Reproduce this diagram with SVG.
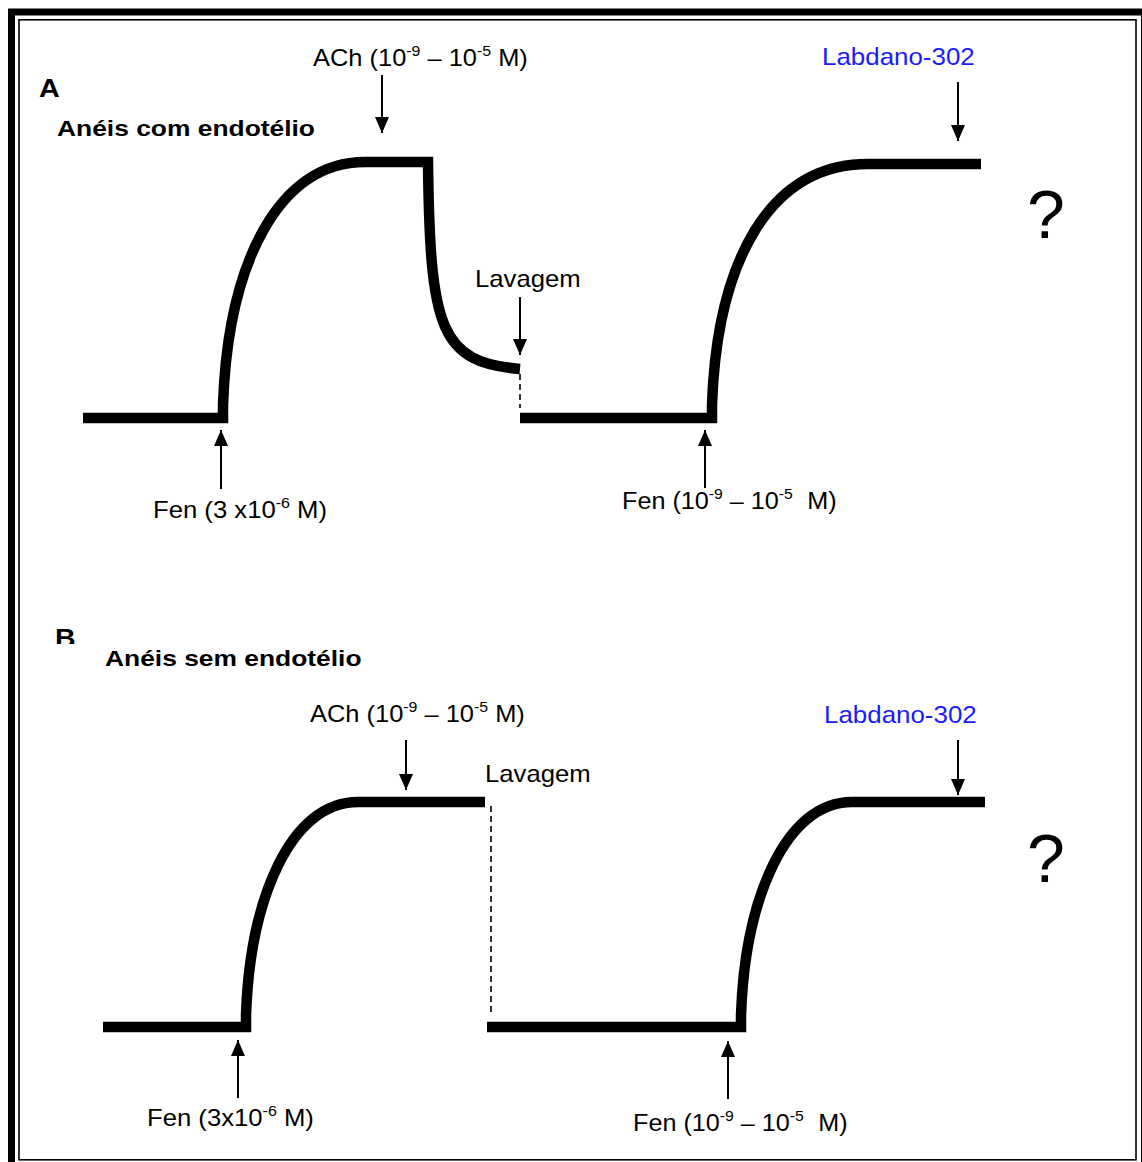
<svg xmlns="http://www.w3.org/2000/svg" width="1142" height="1162" viewBox="0 0 1142 1162">
<style>
.t{font-family:"Liberation Sans",Arial,sans-serif;font-size:24px;fill:#000}
.b{font-family:"Liberation Sans",Arial,sans-serif;font-size:22px;font-weight:bold;fill:#000}
.blue{fill:#1a1aff}
.q{font-family:"Liberation Sans",Arial,sans-serif;font-size:68px;fill:#000}
.sup{font-size:15px}
.trace{fill:none;stroke:#000;stroke-width:10.5;stroke-linejoin:miter;stroke-linecap:butt}
.arr{stroke:#000;stroke-width:2;fill:none;marker-end:url(#ah)}
.dash{stroke:#000;stroke-width:1.6;stroke-dasharray:6 4;fill:none}
</style>
<defs>
<marker id="ah" markerUnits="userSpaceOnUse" markerWidth="16" markerHeight="18" refX="16" refY="7" orient="auto">
<path d="M0,0 L16,7 L0,14 Z" fill="#000"/>
</marker>
<clipPath id="clipB"><rect x="40" y="600" width="60" height="44"/></clipPath>
</defs>
<rect width="1142" height="1162" fill="#fff"/>
<g id="frame">
<rect x="11.5" y="12" width="1133" height="1160" fill="none" stroke="#000" stroke-width="7"/>
<rect x="19" y="19.8" width="1117" height="1140" fill="none" stroke="#000" stroke-width="1.6"/>
</g>

<g id="connectors">
<path class="trace" d="M83 418 L223 418 L223 405 C228 260 280 162 365 162 L428 162 C430 330 440 362 520 369"/>
<path class="dash" d="M520 374 L520 408"/>
<path class="trace" d="M520 418 L712 418 L712 405 C717 260 770 164 868 164 L981 164"/>
<path class="arr" d="M382 75 L382 133"/>
<path class="arr" d="M520 297 L520 355"/>
<path class="arr" d="M958 82 L958 141"/>
<path class="arr" d="M221 489 L221 430"/>
<path class="arr" d="M705 488 L705 430"/>
<path class="trace" d="M103 1027 L246 1027 L246 1015 C250 900 290 802 358 802 L485 802"/>
<path class="dash" d="M491 806 L491 1015"/>
<path class="trace" d="M487 1027 L741 1027 L741 1015 C745 900 785 802 852 802 L985 802"/>
<path class="arr" d="M406 740 L406 790"/>
<path class="arr" d="M958 740 L958 795"/>
<path class="arr" d="M238 1098 L238 1040"/>
<path class="arr" d="M728 1099 L728 1041"/>
</g>

<g id="panelA">
<text class="b" style="font-size:25px" transform="matrix(1.15 0 0 1 39 97)">A</text>
<text class="b" transform="matrix(1.2 0 0 1 57 136)">Anéis com endotélio</text>
<g id="achA"><text class="t" transform="matrix(1.06 0 0 1 313 66)">ACh (10<tspan class="sup" dy="-10">-9</tspan><tspan dy="10"> – 10</tspan><tspan class="sup" dy="-10">-5</tspan><tspan dy="10"> M)</tspan></text></g>
<g id="lavA"><text class="t" transform="matrix(1.07 0 0 1 475 287)">Lavagem</text></g>
<g id="labA"><text class="t blue" transform="matrix(1.08 0 0 1 822 65)">Labdano-302</text></g>
<g id="fenA1"><text class="t" transform="matrix(1.07 0 0 1 153 518)">Fen (3 x10<tspan class="sup" dy="-10">-6</tspan><tspan dy="10"> M)</tspan></text></g>
<g id="fenA2"><text class="t" transform="matrix(1.05 0 0 1 622 509)">Fen (10<tspan class="sup" dy="-10">-9</tspan><tspan dy="10"> – 10</tspan><tspan class="sup" dy="-10">-5</tspan><tspan dy="10" dx="7"> M)</tspan></text></g>
<g id="qA"><text class="q" x="1027" y="238">?</text></g>
</g>

<g id="panelB">
<g clip-path="url(#clipB)"><text class="b" style="font-size:26px" transform="matrix(1.1 0 0 1 55 647)">B</text></g>
<text class="b" transform="matrix(1.2 0 0 1 105 666)">Anéis sem endotélio</text>
<g id="achB"><text class="t" transform="matrix(1.06 0 0 1 310 722)">ACh (10<tspan class="sup" dy="-10">-9</tspan><tspan dy="10"> – 10</tspan><tspan class="sup" dy="-10">-5</tspan><tspan dy="10"> M)</tspan></text></g>
<g id="lavB"><text class="t" transform="matrix(1.07 0 0 1 485 782)">Lavagem</text></g>
<g id="labB"><text class="t blue" transform="matrix(1.08 0 0 1 824 723)">Labdano-302</text></g>
<g id="fenB1"><text class="t" transform="matrix(1.07 0 0 1 147 1126)">Fen (3x10<tspan class="sup" dy="-10">-6</tspan><tspan dy="10"> M)</tspan></text></g>
<g id="fenB2"><text class="t" transform="matrix(1.05 0 0 1 633 1131)">Fen (10<tspan class="sup" dy="-10">-9</tspan><tspan dy="10"> – 10</tspan><tspan class="sup" dy="-10">-5</tspan><tspan dy="10" dx="7"> M)</tspan></text></g>
<g id="qB"><text class="q" x="1027" y="882">?</text></g>
</g>
</svg>
